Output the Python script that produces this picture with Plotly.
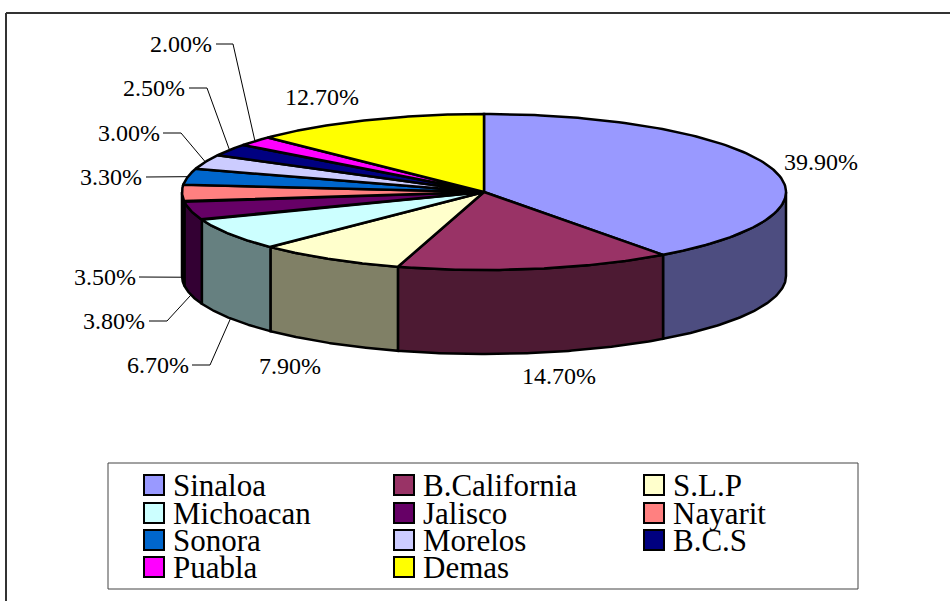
import numpy as np
import plotly.graph_objects as go

# datos
estados = ["Sinaloa", "B.California", "S.L.P", "Michoacan", "Jalisco", "Nayarit",
           "Sonora", "Morelos", "B.C.S", "Puabla", "Demas"]
valores = [39.9, 14.7, 7.9, 6.7, 3.8, 3.5, 3.3, 3.0, 2.5, 2.0, 12.7]
colores = ["#9999FF", "#993366", "#FFFFCC", "#CCFFFF", "#660066", "#FF8080",
           "#0066CC", "#CCCCFF", "#000080", "#FF00FF", "#FFFF00"]
colores_lado = ["#4D4D80", "#4D1A33", "#808066", "#668080", "#330033", "#804040",
                "#003366", "#666680", "#000040", "#800080", "#808000"]

# geometria de la elipse (en pixeles, el eje va de 0 a 950)
CX, CY, RX, RY, ALTO = 484, 192, 302, 78, 84
FUENTE = "Liberation Serif"

# posicion del texto de cada porcentaje y codo de la guia (None = sin guia)
pos_etiquetas = [(821, 162), (559, 376), (290, 366), (158, 365), (114, 321), (105, 277),
                 (111, 177), (129, 133), (154, 88), (181, 44), (322, 97)]
codos = [None, None, None, (210, 365), (167, 321), None, None, (181, 133), (207, 88), (233, 44), None]
inicio_guia = [None, None, None, 192, 149, 139, 146, 163, 189, 216, None]

leyenda_x = [154, 404, 654]
leyenda_y = [485, 513, 540, 567]


def punto(grados, dy=0):
    # angulo en sentido horario desde arriba
    r = np.radians(grados)
    return CX + RX * np.sin(r), CY - RY * np.cos(r) + dy


acum = np.cumsum([0] + valores) * 3.6
fig = go.Figure()

# paredes, solo la mitad de adelante
for i in range(len(valores)):
    a0, a1 = max(acum[i], 90), min(acum[i + 1], 270)
    if a1 <= a0:
        continue
    ang = np.linspace(a0, a1, 80)
    xs, ys = punto(ang)
    xb, yb = punto(ang[::-1], ALTO)
    fig.add_trace(go.Scatter(x=np.r_[xs, xb, xs[0]], y=np.r_[ys, yb, ys[0]], mode="lines",
                             fill="toself", fillcolor=colores_lado[i],
                             line=dict(color="black", width=2.5), hoverinfo="skip"))

# tapa
for i in range(len(valores)):
    ang = np.linspace(acum[i], acum[i + 1], 120)
    xs, ys = punto(ang)
    fig.add_trace(go.Scatter(x=np.r_[CX, xs, CX], y=np.r_[CY, ys, CY], mode="lines",
                             fill="toself", fillcolor=colores[i], name=estados[i],
                             line=dict(color="black", width=2.5), hoverinfo="skip"))

# guias de las etiquetas
for i in range(len(valores)):
    if inicio_guia[i] is None:
        continue
    medio = (acum[i] + acum[i + 1]) / 2
    fin = punto(medio, ALTO if 90 < medio < 270 else 0)
    y_texto = pos_etiquetas[i][1]
    xg = [inicio_guia[i]] + ([codos[i][0]] if codos[i] else []) + [fin[0]]
    yg = [y_texto] + ([y_texto] if codos[i] else []) + [fin[1]]
    fig.add_trace(go.Scatter(x=xg, y=yg, mode="lines", line=dict(color="black", width=1),
                             hoverinfo="skip"))

# cuadros de la leyenda
filas = [leyenda_y[i // 3] for i in range(len(estados))]
cols = [leyenda_x[i % 3] for i in range(len(estados))]
fig.add_trace(go.Scatter(x=cols, y=filas, mode="markers", hoverinfo="skip",
                         marker=dict(symbol="square", size=20, color=colores,
                                     line=dict(color="black", width=2))))

anotaciones = []
for i, v in enumerate(valores):
    anotaciones.append(dict(x=pos_etiquetas[i][0], y=pos_etiquetas[i][1], text=f"{v:.2f}%",
                            showarrow=False, font=dict(family=FUENTE, size=24, color="black")))
for i, nombre in enumerate(estados):
    anotaciones.append(dict(x=cols[i] + 17, y=filas[i], text=nombre, showarrow=False, xanchor="left",
                            font=dict(family=FUENTE, size=31, color="black")))

marco = [
    dict(type="line", x0=6, x1=950, y0=13, y1=13, line=dict(color="#333333", width=2)),
    dict(type="line", x0=6, x1=6, y0=13, y1=601, line=dict(color="#333333", width=2)),
    dict(type="rect", x0=108, x1=858, y0=463, y1=589, line=dict(color="#444444", width=1), layer="below"),
]

fig.update_layout(
    width=950, height=601, showlegend=False, autosize=False,
    margin=dict(l=0, r=0, t=0, b=0), paper_bgcolor="white", plot_bgcolor="white",
    xaxis=dict(range=[0, 950], visible=False, fixedrange=True),
    yaxis=dict(range=[601, 0], visible=False, fixedrange=True),
    annotations=anotaciones, shapes=marco,
)
# sin margen del body para que el grafico quede en 0,0
fig.write_html("out.html", config={"displayModeBar": False},
               post_script="document.body.style.margin='0';document.body.style.overflow='hidden';")
